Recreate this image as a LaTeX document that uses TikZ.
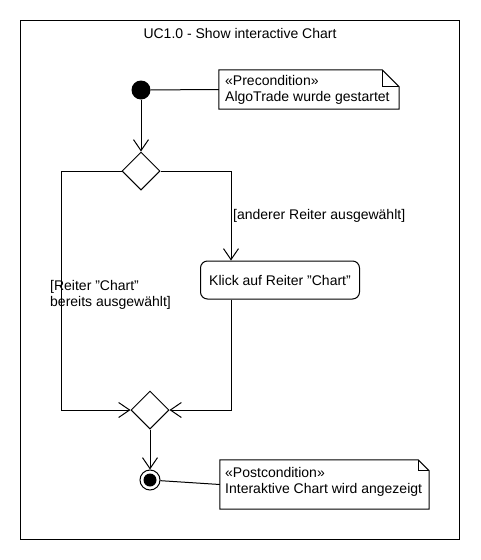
\documentclass[tikz,border=0pt]{standalone}
\usepackage{fontspec}
\setmainfont{Liberation Sans}[Ligatures=NoCommon]
\usetikzlibrary{arrows.meta,shapes.geometric}
\tikzset{
  every node/.style={font=\fontsize{14}{16}\selectfont},
  ln/.style={line width=1pt},
  arr/.style={ln,-{Straight Barb[length=11pt,width=15pt,line width=1pt]}},
  decbox/.style={diamond,draw,line width=1pt,inner sep=0pt,minimum width=38pt,minimum height=38pt,aspect=1},
  actbox/.style={draw,line width=1pt,rounded corners=7pt,minimum width=159pt,minimum height=38pt,inner sep=0pt},
  txt/.style={anchor=west,align=left,inner sep=0pt},
}
\begin{document}
\begin{tikzpicture}[x=1pt,y=-1pt]
\useasboundingbox (0,0) rectangle (480,560);
\fill[white] (0,0) rectangle (480,560);
\draw[ln] (20,20) rectangle (459,539);
\node (title) at (240,33) {UC1.0 - Show interactive Chart};

% initial
\node[circle,fill=black,minimum size=19pt,inner sep=0pt] (init) at (141,90) {};
% precondition note
\node[inner sep=0pt,minimum width=180pt,minimum height=39pt] (pre) at (309,89.5) {};
\draw[ln] (pre.north west) -- ([xshift=-17pt]pre.north east) -- ([yshift=-17pt]pre.north east) -- (pre.south east) -- (pre.south west) -- cycle;
\draw[ln] ([xshift=-17pt]pre.north east) -- ([xshift=-17pt,yshift=-17pt]pre.north east) -- ([yshift=-17pt]pre.north east);
\node[txt] (pretxt) at (225,90) {«Precondition»\\AlgoTrade wurde gestartet};
\draw[ln] (init) -- (pre.west);

% decision
\node[decbox] (dec) at (141,171) {};
\draw[arr] (init) -- (dec);

% action
\node[actbox] (act) at (280,280) {Klick auf Reiter \symbol{34}Chart\symbol{34}};
\draw[arr] (dec.east) -| ([xshift=31pt]act.north west);
\node[txt] (lblr) at (233,216) {[anderer Reiter ausgewählt]};

% merge
\node[decbox] (merge) at (150,410) {};
\draw[arr] (dec.west) -- ++(-60,0) |- (merge.west);
\node[txt] (lbll) at (50,295) {[Reiter \symbol{34}Chart\symbol{34}\\bereits ausgewählt]};
\draw[arr] ([xshift=31pt]act.south west) |- (merge.east);

% final
\node[circle,draw,line width=1pt,minimum size=20pt,inner sep=0pt] (final) at (150,480) {};
\fill (final) circle (6.5pt);
\draw[arr] (merge) -- (final);

% postcondition note
\node[inner sep=0pt,minimum width=209pt,minimum height=49pt] (post) at (324.5,484.5) {};
\draw[ln] (post.north west) -- ([xshift=-11pt]post.north east) -- ([yshift=-11pt]post.north east) -- (post.south east) -- (post.south west) -- cycle;
\draw[ln] ([xshift=-11pt]post.north east) -- ([xshift=-11pt,yshift=-11pt]post.north east) -- ([yshift=-11pt]post.north east);
\node[txt] (posttxt) at (225,482) {«Postcondition»\\Interaktive Chart wird angezeigt};
\draw[ln] (final) -- (post.west);
\end{tikzpicture}
\end{document}
